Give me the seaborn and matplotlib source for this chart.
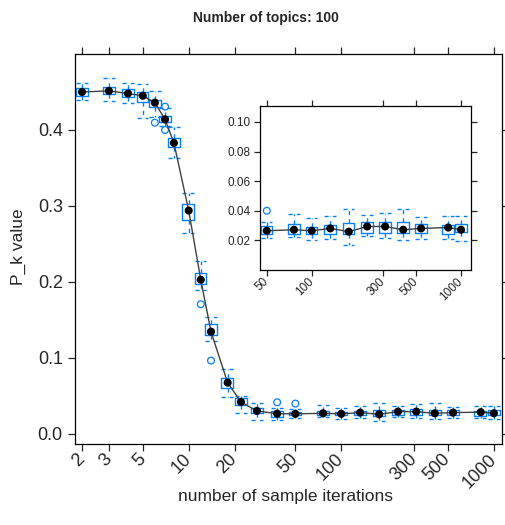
import matplotlib
matplotlib.use("Agg")
import matplotlib.pyplot as plt
import matplotlib.ticker as mticker
import numpy as np
import pandas as pd
import seaborn as sns

# box statistics
iterations = [2, 3, 4, 5, 6, 7, 8, 10, 12, 14, 18, 22, 28, 38, 50,
              76, 100, 133, 177, 235, 310, 410, 540, 820, 1000]
medians = [0.450, 0.4515, 0.448, 0.445, 0.436, 0.414, 0.383, 0.294, 0.203, 0.1346,
           0.0675, 0.0421, 0.0303, 0.0267, 0.0265, 0.0272, 0.0265, 0.0281, 0.0259,
           0.0294, 0.0294, 0.0272, 0.0281, 0.0287, 0.0272]
q1 = [0.4451, 0.447, 0.4438, 0.4368, 0.4307, 0.4105, 0.377, 0.2816, 0.1974, 0.1303,
      0.0601, 0.0382, 0.0272, 0.0228, 0.0245, 0.0245, 0.0243, 0.0243, 0.024,
      0.025, 0.0247, 0.0247, 0.0247, 0.024, 0.0254]
q3 = [0.4557, 0.457, 0.4535, 0.4504, 0.4395, 0.4184, 0.389, 0.3026, 0.2114, 0.1443,
      0.0733, 0.047, 0.0346, 0.0303, 0.0294, 0.0308, 0.0292, 0.0306, 0.0317,
      0.0321, 0.0324, 0.0321, 0.031, 0.0304, 0.031]
whis_lo = [0.4391, 0.438, 0.435, 0.416, 0.4167, 0.405, 0.363, 0.265, 0.1895, 0.1224,
           0.0491, 0.028, 0.0184, 0.019, 0.0216, 0.022, 0.020, 0.0211, 0.0171,
           0.0227, 0.0213, 0.020, 0.0211, 0.0211, 0.0196]
whis_hi = [0.4622, 0.4688, 0.4614, 0.461, 0.4513, 0.4285, 0.4044, 0.3175, 0.2276, 0.1543,
           0.0851, 0.050, 0.0412, 0.034, 0.0324, 0.0375, 0.0348, 0.0366, 0.0413,
           0.0371, 0.0388, 0.0413, 0.0361, 0.0366, 0.0366]
outlier_x = [6, 7, 7, 12, 14, 38, 50]
outlier_y = [0.4096, 0.4307, 0.400, 0.1707, 0.0965, 0.0417, 0.040]

main_xticks = [2, 3, 5, 10, 20, 50, 100, 300, 500, 1000]
main_yticks = [0.0, 0.1, 0.2, 0.3, 0.4]
inset_xticks = [50, 100, 300, 500, 1000]
inset_yticks = [0.02, 0.04, 0.06, 0.08, 0.10]

sns.set_style("ticks")
plt.rcParams['font.family'] = ['Liberation Sans', 'DejaVu Sans']

blue = "#0080ff"
df = pd.DataFrame(dict(iterations=iterations, median=medians, q1=q1, q3=q3,
                       lo=whis_lo, hi=whis_hi))
fl = pd.DataFrame(dict(iterations=outlier_x, value=outlier_y))


def draw_panel(ax, d, f, dot_size):
    stats = [dict(med=r.median, q1=r.q1, q3=r.q3, whislo=r.lo, whishi=r.hi, fliers=[])
             for r in d.itertuples()]
    pos = d.iterations.values.astype(float)
    ax.bxp(stats, positions=pos, widths=pos * 0.18, capwidths=pos * 0.18,
           showfliers=False, manage_ticks=False,
           boxprops=dict(color=blue, lw=1),
           whiskerprops=dict(color=blue, lw=1, ls=(0, (3, 3))),
           capprops=dict(color=blue, lw=1, ls=(0, (3, 3))),
           medianprops=dict(lw=0))
    if len(f):
        sns.scatterplot(data=f, x='iterations', y='value', marker='o', facecolor='none',
                        edgecolor=blue, linewidth=0.9, s=dot_size * 0.7, ax=ax)
    sns.lineplot(data=d, x='iterations', y='median', color='#404040', lw=1, ax=ax)
    sns.scatterplot(data=d, x='iterations', y='median', color='black', edgecolor='none',
                    s=dot_size, ax=ax, zorder=5)
    ax.set_xscale('log')
    ax.xaxis.set_minor_locator(mticker.NullLocator())
    ax.set_xlabel('')
    ax.set_ylabel('')
    for s in ax.spines.values():
        s.set_visible(True)
        s.set_linewidth(0.9)
        s.set_color('black')


fig = plt.figure(figsize=(5.05, 5.25), dpi=100)
ax = fig.add_axes([75.3 / 505, 1 - 444.3 / 525, (502 - 75.3) / 505, (444.3 - 54) / 525])
draw_panel(ax, df, fl, 34)
ax.set_xlim(1.807, 1130)
ax.set_ylim(-0.0136, 0.5)
ax.set_xticks(main_xticks)
ax.set_xticklabels([str(t) for t in main_xticks], rotation=45, ha='right',
                   va='center', rotation_mode='anchor')
ax.set_yticks(main_yticks)
ax.set_yticklabels([f"{t:.1f}" for t in main_yticks])
ax.tick_params(direction='out', length=5, width=0.9, labelsize=13, pad=4,
               top=True, right=True, labeltop=False, labelright=False)

inset = fig.add_axes([260 / 505, 1 - 270 / 525, 210.7 / 505, 164.3 / 525])
sub = df[df.iterations >= 50].reset_index(drop=True)
draw_panel(inset, sub, fl[fl.iterations >= 50], 34)
inset.set_xlim(45, 1161)
inset.set_ylim(0.0, 0.111)
inset.set_xticks(inset_xticks)
inset.set_xticklabels([str(t) for t in inset_xticks], rotation=45, ha='right',
                      va='center', rotation_mode='anchor')
inset.set_yticks(inset_yticks)
inset.set_yticklabels([f"{t:.2f}" for t in inset_yticks])
inset.tick_params(direction='out', length=4, width=0.9, labelsize=8.5, pad=3,
                  top=True, right=True, labeltop=False, labelright=False)

fig.text(266 / 505, 1 - 18 / 525, 'Number of topics: 100', ha='center', va='center',
         fontsize=10, fontweight='bold')
fig.text(286 / 505, 1 - 497 / 525, 'number of sample iterations', ha='center',
         va='center', fontsize=12.5)
fig.text(18 / 505, 1 - 247 / 525, 'P_k value', ha='center', va='center',
         rotation=90, fontsize=12.5)

fig.savefig('out.png', dpi=100)
